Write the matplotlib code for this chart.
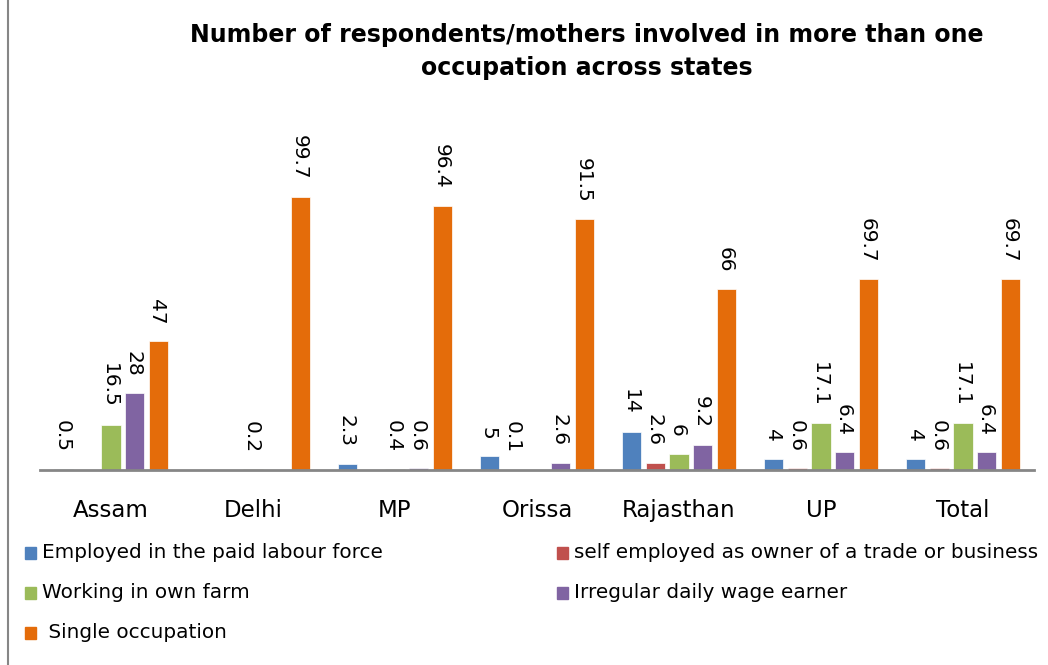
"""Grouped bar chart: respondents/mothers with more than one occupation by state."""

import numpy as np
import matplotlib

matplotlib.use("Agg")
import matplotlib.pyplot as plt
from matplotlib.patches import Rectangle
from matplotlib.lines import Line2D

states = ["Assam", "Delhi", "MP", "Orissa", "Rajasthan", "UP", "Total"]
series_names = [
    "Employed in the paid labour force",
    "self employed as owner of a trade or business",
    "Working in own farm",
    "Irregular daily wage earner",
    " Single occupation",
]
paid_labour = [0.5, np.nan, 2.3, 5, 14, 4, 4]
self_employed = [np.nan, np.nan, np.nan, 0.1, 2.6, 0.6, 0.6]
own_farm = [16.5, 0.2, 0.4, np.nan, 6, 17.1, 17.1]
daily_wage = [28, np.nan, 0.6, 2.6, 9.2, 6.4, 6.4]
single_occupation = [47, 99.7, 96.4, 91.5, 66, 69.7, 69.7]
series_values = [paid_labour, self_employed, own_farm, daily_wage, single_occupation]
colors = ["#4F81BD", "#C0504D", "#9BBB59", "#8064A2", "#E46C0A"]

W, H = 1048, 665
fig = plt.figure(figsize=(W / 100, H / 100), dpi=100)
ax = fig.add_axes([40 / W, (H - 470) / H, 994 / W, 340 / H])

x = np.arange(len(states))
step = 0.166
width = 0.134
for j, (values, color) in enumerate(zip(series_values, colors)):
    vals = np.array(values, dtype=float)
    xs = x + (j - 2) * step
    ax.bar(xs, vals, width=width, color=color, edgecolor="white", linewidth=0.5, zorder=2)
    for xv, v in zip(xs, vals):
        if np.isnan(v):
            continue
        ax.annotate(f"{v:g}", (xv, v), xytext=(-1, 12), textcoords="offset points",
                    rotation=-90, ha="center", va="bottom", fontsize=14.5, color="black")

ax.set_xlim(-0.5, 6.5)
ax.set_ylim(0, 124)
ax.set_yticks([])
ax.set_xticks(x)
ax.set_xticklabels(states, fontsize=16.5)
ax.tick_params(axis="x", length=0, pad=21)
for side in ["top", "right", "left"]:
    ax.spines[side].set_visible(False)
ax.spines["bottom"].set_color("#868686")
ax.spines["bottom"].set_linewidth(2)

fig.text(587 / W, 1 - 35 / H, "Number of respondents/mothers involved in more than one",
         ha="center", va="center", fontsize=17, fontweight="bold")
fig.text(587 / W, 1 - 68 / H, "occupation across states",
         ha="center", va="center", fontsize=17, fontweight="bold")

# legend laid out by hand, row-major like the original
legend_pos = [(25, 553), (557, 553), (25, 593), (557, 593), (25, 633)]
for name, color, (lx, ly) in zip(series_names, colors, legend_pos):
    fig.patches.append(Rectangle((lx / W, 1 - (ly + 6) / H), 11 / W, 12 / H,
                                 transform=fig.transFigure, color=color))
    fig.text((lx + 17) / W, 1 - ly / H, name, ha="left", va="center", fontsize=14.4)

# chart border on the left edge
fig.lines.append(Line2D([8 / W, 8 / W], [0, 1], transform=fig.transFigure,
                        color="#868686", linewidth=1.5))

fig.savefig("out.png", dpi=100)
